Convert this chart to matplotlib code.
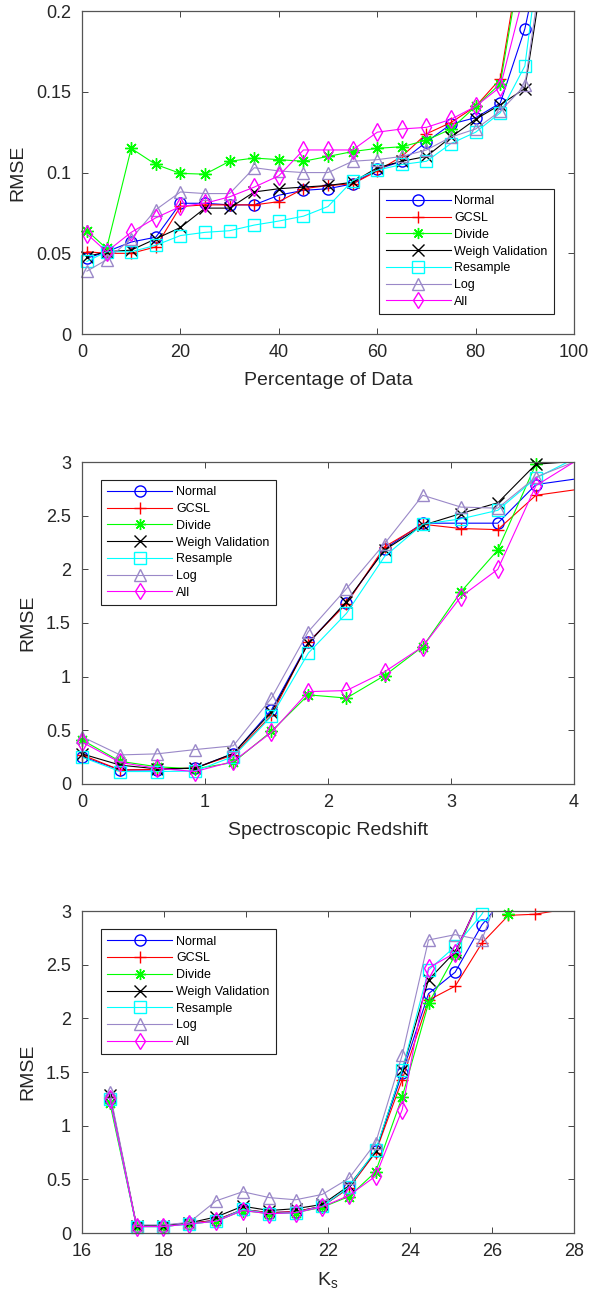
import numpy as np
import matplotlib
matplotlib.use("Agg")
import matplotlib.pyplot as plt
from matplotlib.lines import Line2D
from matplotlib.ticker import FormatStrFormatter

plt.rcParams['font.family'] = ['Liberation Sans', 'DejaVu Sans']

names = ["Normal", "GCSL", "Divide", "Weigh Validation", "Resample", "Log", "All"]
colors = ["#0000ff", "#ff0000", "#00ff00", "#000000", "#00ffff", "#9a88c8", "#ff00ff"]
# MATLAB-like asterisk: 8 spokes
markers = ["o", "+", (8, 2, 0), "x", "s", "^", "d"]

# panel 1: percentage of data
pct = [1, 5, 10, 15, 20, 25, 30, 35, 40, 45, 50, 55, 60, 65, 70, 75, 80, 85, 90, 95]
pct_normal = [0.047, 0.051, 0.057, 0.060, 0.081, 0.081, 0.080, 0.080, 0.086, 0.089, 0.090, 0.093, 0.102, 0.107, 0.119, 0.130, 0.134, 0.143, 0.189, 0.26]
pct_gcsl = [0.051, 0.050, 0.050, 0.054, 0.079, 0.080, 0.080, 0.080, 0.082, 0.090, 0.092, 0.093, 0.101, 0.110, 0.124, 0.131, 0.141, 0.158, 0.25, 0.30]
pct_divide = [0.064, 0.053, 0.115, 0.105, 0.0995, 0.099, 0.107, 0.109, 0.108, 0.107, 0.110, 0.113, 0.115, 0.116, 0.120, 0.127, 0.141, 0.155, 0.245, 0.30]
pct_weigh = [0.048, 0.051, 0.052, 0.059, 0.066, 0.078, 0.078, 0.088, 0.090, 0.091, 0.092, 0.094, 0.103, 0.107, 0.110, 0.122, 0.133, 0.142, 0.152, 0.25]
pct_resample = [0.045, 0.051, 0.051, 0.055, 0.061, 0.063, 0.064, 0.0675, 0.070, 0.073, 0.079, 0.095, 0.1015, 0.105, 0.107, 0.118, 0.125, 0.137, 0.166, 0.283]
pct_log = [0.039, 0.046, 0.059, 0.077, 0.088, 0.087, 0.087, 0.103, 0.101, 0.100, 0.100, 0.107, 0.108, 0.110, 0.114, 0.122, 0.127, 0.138, 0.154, 0.26]
pct_all = [0.062, 0.051, 0.063, 0.072, 0.079, 0.081, 0.085, 0.091, 0.098, 0.114, 0.114, 0.114, 0.125, 0.127, 0.128, 0.133, 0.141, 0.153, 0.213, 0.30]

# panel 2: spectroscopic redshift
zspec = [0.0, 0.31, 0.61, 0.92, 1.23, 1.54, 1.84, 2.15, 2.46, 2.77, 3.08, 3.38, 3.69, 4.31]
z_normal = [0.255, 0.13, 0.13, 0.15, 0.28, 0.69, 1.32, 1.69, 2.19, 2.43, 2.43, 2.43, 2.79, 2.89]
z_gcsl = [0.27, 0.13, 0.135, 0.15, 0.27, 0.64, 1.32, 1.68, 2.21, 2.42, 2.38, 2.37, 2.69, 2.79]
z_divide = [0.41, 0.21, 0.16, 0.14, 0.20, 0.49, 0.83, 0.80, 1.01, 1.28, 1.79, 2.18, 2.98, 3.6]
z_weigh = [0.28, 0.175, 0.14, 0.145, 0.285, 0.67, 1.31, 1.70, 2.18, 2.41, 2.52, 2.62, 2.98, 3.03]
z_resample = [0.25, 0.115, 0.115, 0.12, 0.255, 0.63, 1.22, 1.59, 2.12, 2.42, 2.47, 2.55, 2.85, 3.21]
z_log = [0.44, 0.27, 0.28, 0.32, 0.355, 0.80, 1.42, 1.82, 2.24, 2.69, 2.58, 2.57, 2.86, 3.14]
z_all = [0.39, 0.20, 0.145, 0.115, 0.21, 0.48, 0.86, 0.87, 1.045, 1.28, 1.745, 2.0, 2.78, 3.22]

# panel 3: Ks magnitude
ks = [16.68, 17.33, 17.97, 18.62, 19.27, 19.92, 20.57, 21.21, 21.86, 22.51, 23.16, 23.81, 24.45, 25.10, 25.75, 26.40, 27.04, 27.69]
ks_normal = [1.25, 0.065, 0.065, 0.09, 0.12, 0.22, 0.19, 0.20, 0.25, 0.42, 0.76, 1.49, 2.23, 2.43, 2.87, 3.17, 3.6, 3.8]
ks_gcsl = [1.27, 0.065, 0.065, 0.09, 0.12, 0.22, 0.19, 0.20, 0.25, 0.42, 0.75, 1.43, 2.17, 2.30, 2.70, 2.96, 2.97, 3.01]
ks_divide = [1.21, 0.06, 0.06, 0.085, 0.11, 0.21, 0.18, 0.19, 0.24, 0.34, 0.57, 1.27, 2.14, 2.59, 3.15, 2.97, 3.5, 3.8]
ks_weigh = [1.285, 0.07, 0.07, 0.095, 0.15, 0.25, 0.21, 0.227, 0.267, 0.44, 0.76, 1.52, 2.36, 2.62, 3.15, 3.6, 3.8, 4.0]
ks_resample = [1.25, 0.06, 0.06, 0.085, 0.11, 0.22, 0.18, 0.19, 0.25, 0.43, 0.77, 1.52, 2.45, 2.67, 2.97, 3.4, 3.8, 4.0]
ks_log = [1.31, 0.075, 0.075, 0.10, 0.30, 0.385, 0.33, 0.31, 0.36, 0.51, 0.84, 1.66, 2.73, 2.78, 2.73, 3.4, 3.8, 4.0]
ks_all = [1.25, 0.06, 0.06, 0.085, 0.11, 0.21, 0.18, 0.19, 0.245, 0.35, 0.53, 1.15, 2.47, 2.61, 3.15, 3.5, 3.8, 4.0]

fig = plt.figure(figsize=(5.9, 13), dpi=100)
ink = "#262626"


def panel(rect, x, series, xlim, ylim, yticks, xticks, xlabel, leg_loc, leg_anchor):
    ax = fig.add_axes(rect)
    x = np.array(x)
    for ys, c, m in zip(series, colors, markers):
        ys = np.array(ys)
        ax.plot(x, ys, color=c, lw=0.8)
        ok = (ys <= ylim[1]) & (x <= xlim[1])
        ms = 9 if m != "o" and m != "s" else 8
        ax.plot(x[ok], ys[ok], ls="none", marker=m, ms=ms, mfc="none", mec=c,
                mew=1.0, clip_on=False)
    ax.set_xlim(xlim)
    ax.set_ylim(ylim)
    ax.set_xticks(xticks)
    ax.set_yticks(yticks)
    ax.yaxis.set_major_formatter(FormatStrFormatter('%g'))
    ax.tick_params(direction="in", top=True, right=True, length=4, width=0.6,
                   labelsize=13, colors=ink)
    ax.tick_params(axis="x", pad=7)
    ax.tick_params(axis="y", pad=8)
    for s in ax.spines.values():
        s.set_color("#555555")
        s.set_linewidth(0.9)
    ax.set_xlabel(xlabel, fontsize=14, color=ink, labelpad=8)
    ax.set_ylabel("RMSE", fontsize=14, color=ink, labelpad=7)
    handles = [Line2D([], [], color=c, lw=0.8, marker=m, ms=8, mfc="none", mec=c, mew=1.0)
               for c, m in zip(colors, markers)]
    leg = ax.legend(handles, names, loc=leg_loc, bbox_to_anchor=leg_anchor, fontsize=9,
                    handlelength=5.2, handletextpad=0.3, labelspacing=0.38,
                    borderpad=0.5, fancybox=False, framealpha=1, borderaxespad=0)
    leg.get_frame().set_edgecolor("#222222")
    leg.get_frame().set_linewidth(0.8)
    return ax


panel([0.139, 0.743, 0.834, 0.2485], pct,
      [pct_normal, pct_gcsl, pct_divide, pct_weigh, pct_resample, pct_log, pct_all],
      (0, 100), (0, 0.2), [0, 0.05, 0.1, 0.15, 0.2], [0, 20, 40, 60, 80, 100],
      "Percentage of Data", "lower right", (0.959, 0.062))

panel([0.139, 0.397, 0.834, 0.2476], zspec,
      [z_normal, z_gcsl, z_divide, z_weigh, z_resample, z_log, z_all],
      (0, 4), (0, 3), [0, 0.5, 1, 1.5, 2, 2.5, 3], [0, 1, 2, 3, 4],
      "Spectroscopic Redshift", "upper left", (0.0386, 0.944))

panel([0.139, 0.0515, 0.834, 0.2477], ks,
      [ks_normal, ks_gcsl, ks_divide, ks_weigh, ks_resample, ks_log, ks_all],
      (16, 28), (0, 3), [0, 0.5, 1, 1.5, 2, 2.5, 3], [16, 18, 20, 22, 24, 26, 28],
      r"K$_\mathregular{s}$", "upper left", (0.0386, 0.943))

fig.savefig("out.png", dpi=100)
